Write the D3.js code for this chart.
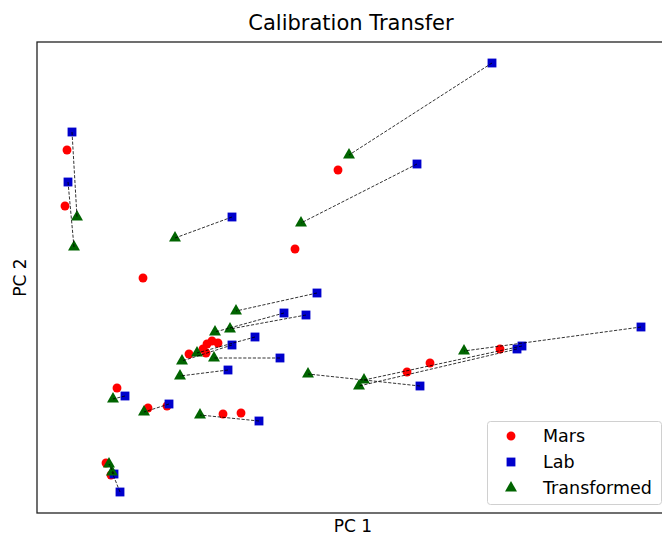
<!DOCTYPE html>
<html>
<head>
<meta charset="utf-8">
<script src="https://cdn.jsdelivr.net/npm/d3@7"></script>
<style>
  html, body { margin: 0; padding: 0; background: #fff; }
  svg { display: block; }
</style>
</head>
<body>
<div id="chart"></div>
<script>
// Score coordinates (PC 1, PC 2) for each sample.
const marsX = [-5.66, -5.70, -4.14, -0.24, -1.10, -3.22, -2.94, -2.86, -2.76, -2.64, -2.88, -2.54, -2.18, -4.66, -4.04, -3.66, -4.88, -4.78, 3.00, 1.60, 1.14];
const marsY = [2.55, 1.43, -0.01, 2.15, 0.57, -1.53, -1.43, -1.33, -1.27, -1.31, -1.51, -2.73, -2.71, -2.21, -2.61, -2.57, -3.71, -3.95, -1.43, -1.71, -1.89];

const labX = [-5.56, -5.64, -2.36, 2.84, 1.34, -0.66, -1.32, -0.88, -1.90, -2.36, -1.40, -2.44, 1.40, -1.82, -4.50, -3.62, -4.72, -4.60, 5.82, 3.44, 3.34];
const labY = [2.91, 1.91, 1.21, 4.29, 2.27, -0.31, -0.71, -0.75, -1.19, -1.35, -1.61, -1.85, -2.17, -2.87, -2.37, -2.53, -3.93, -4.29, -0.99, -1.37, -1.43];

const transX = [-5.46, -5.52, -3.50, -0.02, -0.98, -2.28, -2.70, -2.40, -3.06, -3.36, -2.72, -3.40, -0.84, -3.00, -4.74, -4.12, -4.82, -4.76, 2.28, 0.28, 0.18];
const transY = [1.21, 0.61, 0.79, 2.45, 1.09, -0.67, -1.09, -1.03, -1.51, -1.67, -1.61, -1.97, -1.93, -2.75, -2.43, -2.69, -3.73, -3.89, -1.47, -2.05, -2.17];

const seriesNames = ["Mars", "Lab", "Transformed"];
const seriesColors = ["#ff0000", "#0000cc", "#006400"];

const W = 662, H = 535;
const plot = { left: 37, top: 42, right: 663, bottom: 513 };

const x = d3.scaleLinear().domain([-6.26, 6.26]).range([plot.left, plot.right]);
const y = d3.scaleLinear().domain([-4.71, 4.71]).range([plot.bottom, plot.top]);

const svg = d3.select("#chart").append("svg")
  .attr("width", W).attr("height", H)
  .style("font-family", "'DejaVu Sans', sans-serif");

svg.append("defs").append("clipPath").attr("id", "plotclip")
  .append("rect")
  .attr("x", plot.left).attr("y", plot.top)
  .attr("width", plot.right - plot.left).attr("height", plot.bottom - plot.top);

const g = svg.append("g").attr("clip-path", "url(#plotclip)");

const toPts = (xs, ys) => xs.map((v, i) => ({ x: v, y: ys[i] }));
const mars = toPts(marsX, marsY);
const lab = toPts(labX, labY);
const trans = toPts(transX, transY);

const symCircle = d3.symbol().type(d3.symbolCircle).size(62);
const symSquare = d3.symbol().type(d3.symbolSquare).size(78);
const symTri = d3.symbol().type(d3.symbolTriangle).size(62);

function drawSeries(data, sym, color) {
  g.append("g").selectAll("path").data(data).join("path")
    .attr("d", sym)
    .attr("transform", d => `translate(${x(d.x)},${y(d.y)})`)
    .attr("fill", color);
}

drawSeries(mars, symCircle, seriesColors[0]);
drawSeries(lab, symSquare, seriesColors[1]);
drawSeries(trans, symTri, seriesColors[2]);

// Dashed links from each lab spectrum to its transformed counterpart
g.append("g").selectAll("line").data(lab).join("line")
  .attr("x1", d => x(d.x)).attr("y1", d => y(d.y))
  .attr("x2", (d, i) => x(trans[i].x)).attr("y2", (d, i) => y(trans[i].y))
  .attr("stroke", "#000")
  .attr("stroke-opacity", 0.8)
  .attr("stroke-width", 1)
  .attr("stroke-dasharray", "3.2,1.6");

// Axes frame (no ticks)
svg.append("rect")
  .attr("x", plot.left).attr("y", plot.top)
  .attr("width", plot.right - plot.left).attr("height", plot.bottom - plot.top)
  .attr("fill", "none").attr("stroke", "#222").attr("stroke-width", 1.3);

svg.append("text")
  .attr("x", 351).attr("y", 30)
  .attr("text-anchor", "middle")
  .attr("font-size", 21).attr("fill", "#000")
  .text("Calibration Transfer");

svg.append("text")
  .attr("x", 353).attr("y", 532)
  .attr("text-anchor", "middle")
  .attr("font-size", 17).attr("fill", "#000")
  .text("PC 1");

svg.append("text")
  .attr("transform", `translate(26,${(plot.top + plot.bottom) / 2}) rotate(-90)`)
  .attr("text-anchor", "middle")
  .attr("font-size", 17).attr("fill", "#000")
  .text("PC 2");

// Legend
const leg = svg.append("g");
leg.append("rect")
  .attr("x", 487.5).attr("y", 421.5).attr("width", 174).attr("height", 83)
  .attr("rx", 3).attr("fill", "#fff").attr("fill-opacity", 0.8)
  .attr("stroke", "#d0d0d0").attr("stroke-width", 1);
const legSyms = [symCircle, symSquare, symTri];
seriesNames.forEach((name, i) => {
  const cy = 436 + i * 26;
  leg.append("path").attr("d", legSyms[i])
    .attr("transform", `translate(511,${cy})`)
    .attr("fill", seriesColors[i]);
  leg.append("text")
    .attr("x", 543).attr("y", cy + 6)
    .attr("font-size", 17.5).attr("fill", "#000")
    .text(name);
});
</script>
</body>
</html>
